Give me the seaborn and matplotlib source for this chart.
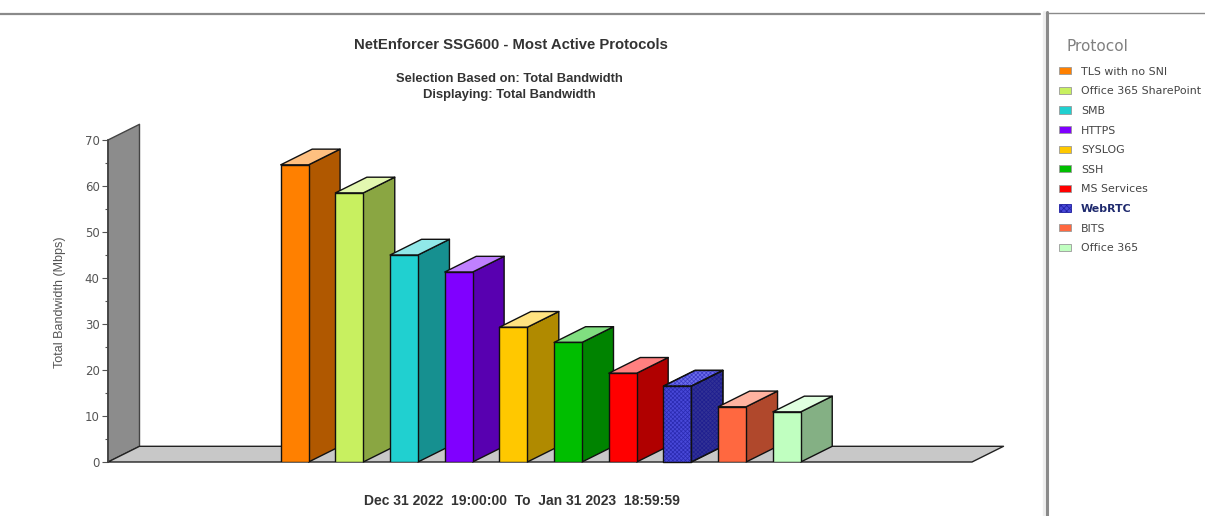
import matplotlib
matplotlib.use("Agg")
import matplotlib.pyplot as plt
from matplotlib.colors import to_rgb
from matplotlib.patches import Patch, Polygon
from matplotlib.lines import Line2D
import pandas as pd
import seaborn as sns

protocols = ["TLS with no SNI", "Office 365 SharePoint", "SMB", "HTTPS", "SYSLOG",
             "SSH", "MS Services", "WebRTC", "BITS", "Office 365"]
bandwidth = [64.6, 58.5, 45.0, 41.3, 29.3, 26.0, 19.3, 16.5, 12.0, 10.9]
colors = ["#FF8000", "#C8F060", "#20D0D0", "#8000FF", "#FFC800",
          "#00BE00", "#FF0000", "#4848D8", "#FF6840", "#C0FFC0"]
highlighted = "WebRTC"

W, H = 1205, 516
sns.set_theme(style="white")
plt.rcParams["font.family"] = ["DejaVu Sans"]
plt.rcParams["hatch.linewidth"] = 0.5
fig = plt.figure(figsize=(W / 100, H / 100), dpi=100, facecolor="white")
ax = fig.add_axes([108 / W, 1 - 462 / H, 864 / W, 322 / H])
ax.patch.set_alpha(0)

df = pd.DataFrame({"protocol": protocols, "bandwidth": bandwidth})
sns.barplot(data=df, x="protocol", y="bandwidth", hue="protocol", order=protocols,
            hue_order=protocols, palette=colors, width=0.51, dodge=False, legend=False,
            saturation=1, ax=ax, zorder=10)
ax.set_xlim(4.487 - 7.9, 4.487 + 7.9)
ax.set_ylim(0, 70)
unit_x = 864 / 15.8
unit_y = 322 / 70
DX, DY = 31.5 / unit_x, 15.7 / unit_y


def shade(c, k):
    return tuple(v * k for v in to_rgb(c))


def tint(c, k):
    return tuple(v + (1 - v) * k for v in to_rgb(c))


def face(pts, fc, z, ec="#111111", lw=1.0, **kw):
    p = Polygon(pts, closed=True, facecolor=fc, edgecolor=ec, linewidth=lw, zorder=z,
                clip_on=False, joinstyle="round", **kw)
    ax.add_patch(p)
    return p


x0, x1 = ax.get_xlim()
ymax = ax.get_ylim()[1]
# wall and floor
face([(x0, 0), (x0 + DX, DY), (x0 + DX, ymax + DY), (x0, ymax)], "#8C8C8C", 1, ec="#444444")
face([(x0, 0), (x1, 0), (x1 + DX, DY), (x0 + DX, DY)], "#C8C8C8", 2, ec="#222222")

bars = [b for c in ax.containers for b in c]
for i, (bar, col, name) in enumerate(zip(bars, colors, protocols)):
    l, r = bar.get_x(), bar.get_x() + bar.get_width()
    h = bar.get_height()
    z = 10 + i * 3
    side = [(r, 0), (r + DX, DY), (r + DX, h + DY), (r, h)]
    top = [(l, h), (r, h), (r + DX, h + DY), (l + DX, h + DY)]
    face(side, shade(col, 0.69), z)
    face(top, "#6C6CEA" if name == highlighted else tint(col, 0.5), z)
    bar.set_edgecolor("#111111")
    bar.set_linewidth(1.0)
    bar.set_zorder(z + 1)
    if name == highlighted:
        bar.set_hatch("xxxxxxxx")
        bar.set_edgecolor("#2A2AB0")
        bar.set_linewidth(0)
        face([(l, 0), (r, 0), (r, h), (l, h)], "none", z + 2)
        face(side, "none", z + 2, ec="#1E1E90", lw=0, hatch="xxxxxxxx")
        face(top, "none", z + 2, ec="#3C3CC8", lw=0, hatch="xxxxxxxx")
        face(side, "none", z + 2)
        face(top, "none", z + 2)

sns.despine(ax=ax, top=True, right=True, bottom=True)
ax.spines["left"].set_color("#444444")
ax.set_xlabel("")
ax.set_xticks([])
ax.set_yticks(range(0, 71, 10))
ax.set_yticks(range(5, 70, 10), minor=True)
ax.tick_params(axis="y", which="major", left=True, length=4, width=0.8, color="#555555",
               labelsize=8.5, labelcolor="#555555", pad=2)
ax.tick_params(axis="y", which="minor", left=True, length=2.5, width=0.8, color="#555555")
ax.set_ylabel("Total Bandwidth (Mbps)", fontsize=9, color="#555555", labelpad=0,
              fontfamily="Liberation Sans")
ax.yaxis.set_label_coords((66 - 108) / 864, (462 - 302) / 322)

bold = dict(fontfamily="Liberation Sans", fontweight="bold", color="#333333", ha="center", va="center")
fig.text(511 / W, 1 - 44.7 / H, "NetEnforcer SSG600 - Most Active Protocols", fontsize=10.75, **bold)
fig.text(509.5 / W, 1 - 79 / H, "Selection Based on: Total Bandwidth", fontsize=9.4, **bold)
fig.text(509.5 / W, 1 - 95 / H, "Displaying: Total Bandwidth", fontsize=9.4, **bold)
fig.text(522 / W, 1 - 501 / H, "Dec 31 2022  19:00:00  To  Jan 31 2023  18:59:59", fontsize=10, **bold)

# panel frame
fig.add_artist(Line2D([1043.5 / W] * 2, [0, 1 - 12 / H], color="#EEEEEE", lw=2.4))
fig.add_artist(Line2D([0, 1040 / W], [1 - 13.5 / H] * 2, color="#8A8A8A", lw=1.6))
fig.add_artist(Line2D([1046.5 / W] * 2, [0, 1 - 12 / H], color="#8A8A8A", lw=2.2))
fig.add_artist(Line2D([1046 / W, 1], [1 - 12.5 / H] * 2, color="#8A8A8A", lw=1.0))

fig.text(1067 / W, 1 - 47 / H, "Protocol", fontsize=11, color="#808080", ha="left", va="center")
handles = [Patch(facecolor=c, edgecolor="#2020A0" if n == highlighted else "#999999", linewidth=0.6,
                 hatch="xxxxxx" if n == highlighted else None) for c, n in zip(colors, protocols)]
leg = fig.legend(handles, protocols, loc="upper left", bbox_to_anchor=(1059 / W, 1 - 66.7 / H),
                 frameon=False, fontsize=7.95,
                 handlelength=1.08, handleheight=0.62, handletextpad=0.9,
                 labelspacing=0.87, borderaxespad=0, borderpad=0)
for t, n in zip(leg.get_texts(), protocols):
    t.set_color("#444444")
    if n == highlighted:
        t.set_color("#1F2A6E")
        t.set_fontweight("bold")

fig.savefig("out.png", dpi=100, facecolor="white")
